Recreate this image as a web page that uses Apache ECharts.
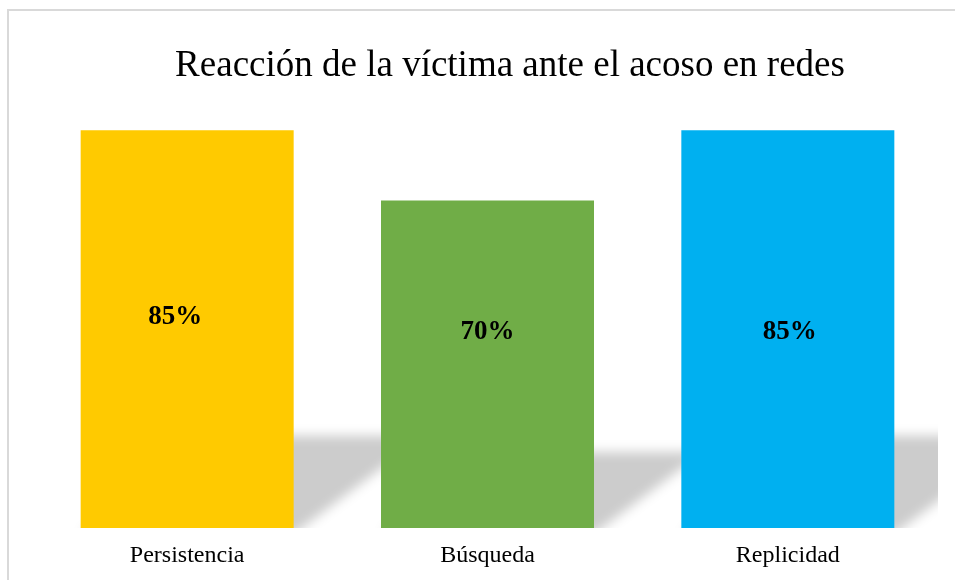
<!DOCTYPE html>
<html>
<head>
<meta charset="utf-8">
<script src="https://cdn.jsdelivr.net/npm/echarts@6/dist/echarts.min.js"></script>
<style>
  html, body { margin: 0; padding: 0; background: #fff; }
  #chart { width: 955px; height: 580px; }
</style>
</head>
<body>
<div id="chart"></div>
<script>
// datos
const categories = ['Persistencia', 'Búsqueda', 'Replicidad'];
const values = [85, 70, 85];
const colors = ['#FFCA00', '#70AD47', '#00B0F0'];

const chart = echarts.init(document.getElementById('chart'));

// sombra inclinada detrás de cada barra (solo se ve la sombra difuminada)
const FAR = 3000;
function renderShadow(params, api) {
  const base = api.coord([api.value(0), 0]);
  const top = api.coord([api.value(0), api.value(1)]);
  const half = 106.5;
  const h = base[1] - top[1];
  const sh = h * 0.232;
  const dx = h * 0.31;
  const x1 = base[0] - half - FAR, x2 = base[0] + half - FAR, yb = base[1];
  return {
    type: 'polygon',
    shape: { points: [[x1, yb + 6], [x2, yb + 6], [x2 + dx + 8, yb - sh], [x1 + dx, yb - sh]] },
    style: { fill: '#CCCCCC', shadowBlur: 12, shadowColor: '#CCCCCC', shadowOffsetX: FAR }
  };
}

const labelShift = [[-12, -12], [0, -32], [2, 3]];

chart.setOption({
  animation: false,
  title: {
    text: 'Reacción de la víctima ante el acoso en redes',
    left: 505,
    top: 43,
    textAlign: 'center',
    textStyle: {
      fontFamily: 'Liberation Serif',
      fontWeight: 'normal',
      fontSize: 37,
      color: '#000'
    }
  },
  graphic: [{
    type: 'rect',
    shape: { x: 8, y: 10, width: 1200, height: 800 },
    style: { fill: 'none', stroke: '#D9D9D9', lineWidth: 2 },
    silent: true
  }],
  grid: { left: 37, right: 17, top: 60, bottom: 52 },
  xAxis: {
    type: 'category',
    data: categories,
    axisLine: { show: false },
    axisTick: { show: false },
    axisLabel: {
      margin: 16,
      fontFamily: 'Liberation Serif',
      fontSize: 24,
      color: '#000'
    }
  },
  yAxis: {
    type: 'value',
    min: 0,
    max: 100,
    show: false,
    splitLine: { show: false }
  },
  series: [
    {
      type: 'custom',
      renderItem: renderShadow,
      clip: true,
      z: 1,
      data: values.map((v, i) => [i, v])
    },
    {
      type: 'bar',
      barWidth: 213,
      z: 2,
      data: values.map((v, i) => ({
        value: v,
        itemStyle: { color: colors[i] },
        label: { offset: labelShift[i] }
      })),
      label: {
        show: true,
        position: 'inside',
        formatter: '{c}%',
        fontFamily: 'Liberation Serif',
        fontWeight: 'bold',
        fontSize: 27,
        color: '#000'
      }
    }
  ]
});
</script>
</body>
</html>
